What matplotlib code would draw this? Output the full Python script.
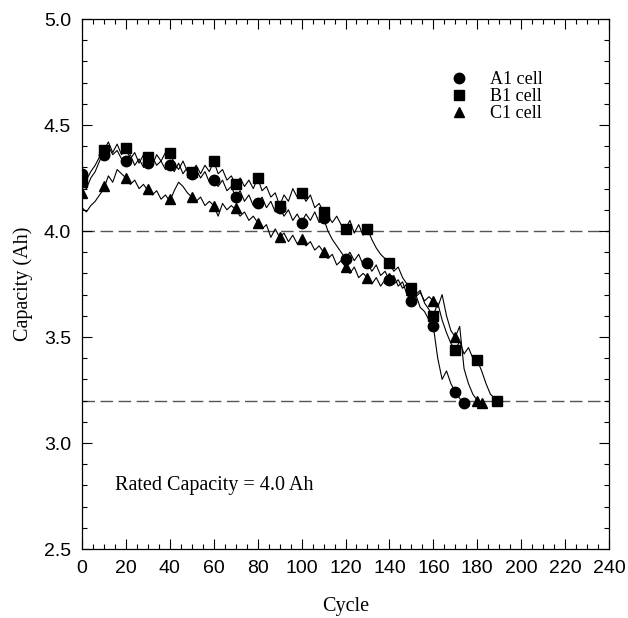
import matplotlib
matplotlib.use("Agg")
import matplotlib.pyplot as plt
from matplotlib.ticker import MultipleLocator
from matplotlib.lines import Line2D

# ---------------- data ----------------
# noisy per-cycle capacity traces (read every 2 cycles)
a1_cycles = list(range(0, 176, 2))
a1_cap = [4.26, 4.24, 4.28, 4.31, 4.35, 4.37, 4.40, 4.36, 4.38, 4.34,
          4.33, 4.36, 4.31, 4.34, 4.30, 4.32, 4.35, 4.31, 4.33, 4.29,
          4.31, 4.28, 4.32, 4.27, 4.30, 4.27, 4.29, 4.25, 4.28, 4.23,
          4.24, 4.21, 4.24, 4.19, 4.21, 4.16, 4.19, 4.14, 4.17, 4.12,
          4.13, 4.16, 4.11, 4.14, 4.09, 4.11, 4.07, 4.10, 4.05, 4.08,
          4.04, 4.08, 4.05, 4.09, 4.04, 4.06, 4.00, 3.96, 3.93, 3.90,
          3.87, 3.90, 3.86, 3.89, 3.84, 3.85, 3.81, 3.84, 3.79, 3.81,
          3.77, 3.79, 3.74, 3.76, 3.70, 3.67, 3.70, 3.64, 3.62, 3.58,
          3.55, 3.40, 3.30, 3.34, 3.28, 3.24, 3.21, 3.19]

b1_cycles = sorted(set(list(range(0, 190, 2)) + [189]))
b1_cap = [4.22, 4.20, 4.25, 4.28, 4.33, 4.38, 4.42, 4.37, 4.41, 4.36,
          4.39, 4.34, 4.37, 4.32, 4.36, 4.35, 4.31, 4.36, 4.33, 4.37,
          4.37, 4.32, 4.29, 4.33, 4.28, 4.28, 4.31, 4.27, 4.31, 4.28,
          4.33, 4.27, 4.29, 4.24, 4.26, 4.22, 4.25, 4.21, 4.24, 4.20,
          4.25, 4.19, 4.21, 4.16, 4.18, 4.12, 4.17, 4.14, 4.20, 4.16,
          4.18, 4.14, 4.17, 4.11, 4.13, 4.09, 4.07, 4.04, 4.07, 4.03,
          4.01, 4.05, 3.99, 4.03, 3.98, 4.01, 3.96, 3.92, 3.89, 3.87,
          3.85, 3.81, 3.83, 3.78, 3.75, 3.73, 3.70, 3.72, 3.66, 3.63,
          3.60, 3.66, 3.58, 3.52, 3.47, 3.44, 3.48, 3.42, 3.45, 3.40,
          3.39, 3.34, 3.28, 3.23, 3.21, 3.20]

c1_cycles = list(range(0, 184, 2))
c1_cap = [4.11, 4.09, 4.12, 4.14, 4.17, 4.20, 4.26, 4.23, 4.29, 4.27,
          4.25, 4.22, 4.24, 4.20, 4.22, 4.19, 4.17, 4.19, 4.15, 4.17,
          4.14, 4.19, 4.23, 4.21, 4.18, 4.16, 4.14, 4.16, 4.12, 4.14,
          4.12, 4.07, 4.13, 4.10, 4.12, 4.10, 4.07, 4.09, 4.05, 4.07,
          4.04, 4.01, 4.03, 3.97, 4.01, 3.97, 3.99, 3.95, 3.98, 3.94,
          3.96, 3.93, 3.95, 3.91, 3.93, 3.90, 3.87, 3.89, 3.84, 3.86,
          3.83, 3.80, 3.83, 3.78, 3.80, 3.78, 3.75, 3.78, 3.74, 3.77,
          3.78, 3.75, 3.77, 3.73, 3.75, 3.72, 3.69, 3.71, 3.67, 3.69,
          3.67, 3.64, 3.70, 3.60, 3.53, 3.50, 3.55, 3.35, 3.28, 3.23,
          3.20, 3.19]

# marker points
a1_mk_cycles = [0, 10, 20, 30, 40, 50, 60, 70, 80, 90, 100, 110, 120, 130, 140, 150, 160, 170, 174]
a1_mk_cap = [4.27, 4.36, 4.33, 4.32, 4.31, 4.27, 4.24, 4.16, 4.13, 4.11, 4.04, 4.06, 3.87, 3.85, 3.77, 3.67, 3.55, 3.24, 3.19]
b1_mk_cycles = [0, 10, 20, 30, 40, 50, 60, 70, 80, 90, 100, 110, 120, 130, 140, 150, 160, 170, 180, 189]
b1_mk_cap = [4.23, 4.38, 4.39, 4.35, 4.37, 4.28, 4.33, 4.22, 4.25, 4.12, 4.18, 4.09, 4.01, 4.01, 3.85, 3.73, 3.60, 3.44, 3.39, 3.20]
c1_mk_cycles = [0, 10, 20, 30, 40, 50, 60, 70, 80, 90, 100, 110, 120, 130, 140, 150, 160, 170, 180, 182]
c1_mk_cap = [4.18, 4.21, 4.25, 4.20, 4.15, 4.16, 4.12, 4.11, 4.04, 3.97, 3.96, 3.90, 3.83, 3.78, 3.78, 3.72, 3.67, 3.50, 3.20, 3.19]

ref_levels = [4.0, 3.2]
labels = ["A1 cell", "B1 cell", "C1 cell"]
x_ticks = list(range(0, 241, 20))
y_ticks = [2.5, 3.0, 3.5, 4.0, 4.5, 5.0]

# ---------------- figure ----------------
fig = plt.figure(figsize=(6.28, 6.18), dpi=100)
ax = fig.add_axes([82 / 628, 1 - 549 / 618, 527 / 628, 530 / 618])

serif = ["Liberation Serif", "DejaVu Serif"]
sans = ["Liberation Sans", "DejaVu Sans"]

for lvl in ref_levels:
    ax.axhline(lvl, color="#555555", lw=1.0, dashes=(9, 4), zorder=1)

for cyc, cap in [(a1_cycles, a1_cap), (b1_cycles, b1_cap), (c1_cycles, c1_cap)]:
    ax.plot(cyc, cap, color="black", lw=0.8, zorder=2)

ax.plot(a1_mk_cycles, a1_mk_cap, ls="none", marker="o", ms=7.5, color="black", zorder=3)
ax.plot(b1_mk_cycles, b1_mk_cap, ls="none", marker="s", ms=6.8, color="black", zorder=3)
ax.plot(c1_mk_cycles, c1_mk_cap, ls="none", marker="^", ms=7.5, color="black", zorder=3)

handles = [Line2D([], [], ls="none", marker="o", ms=7.5, color="black"),
           Line2D([], [], ls="none", marker="s", ms=6.8, color="black"),
           Line2D([], [], ls="none", marker="^", ms=7.5, color="black")]
leg = ax.legend(handles, labels, loc="upper left", bbox_to_anchor=(0.698, 0.902),
                frameon=False, handlelength=1.0, handletextpad=1.25, labelspacing=0.0,
                borderaxespad=0, borderpad=0, prop={"family": serif, "size": 13})

ax.text(15, 2.80, "Rated Capacity = 4.0 Ah", family=serif, fontsize=14.5,
        ha="left", va="center")

ax.set_xlim(0, 240)
ax.set_ylim(2.5, 5.0)
ax.set_xticks(x_ticks)
ax.set_yticks(y_ticks)
ax.set_yticklabels([f"{v:.1f}" for v in y_ticks])
ax.xaxis.set_minor_locator(MultipleLocator(5))
ax.yaxis.set_minor_locator(MultipleLocator(0.1))
ax.tick_params(which="both", direction="in", top=True, right=True, width=0.8)
ax.tick_params(which="major", length=7, pad=8, labelsize=14)
ax.tick_params(which="minor", length=3.5)
for lab in ax.get_xticklabels() + ax.get_yticklabels():
    lab.set_family(sans)
for sp in ax.spines.values():
    sp.set_linewidth(0.9)

ax.set_xlabel("Cycle", family=serif, fontsize=14.5, labelpad=14)
ax.set_ylabel("Capacity (Ah)", family=serif, fontsize=14.5, labelpad=8)

fig.savefig("out.png", dpi=100)
